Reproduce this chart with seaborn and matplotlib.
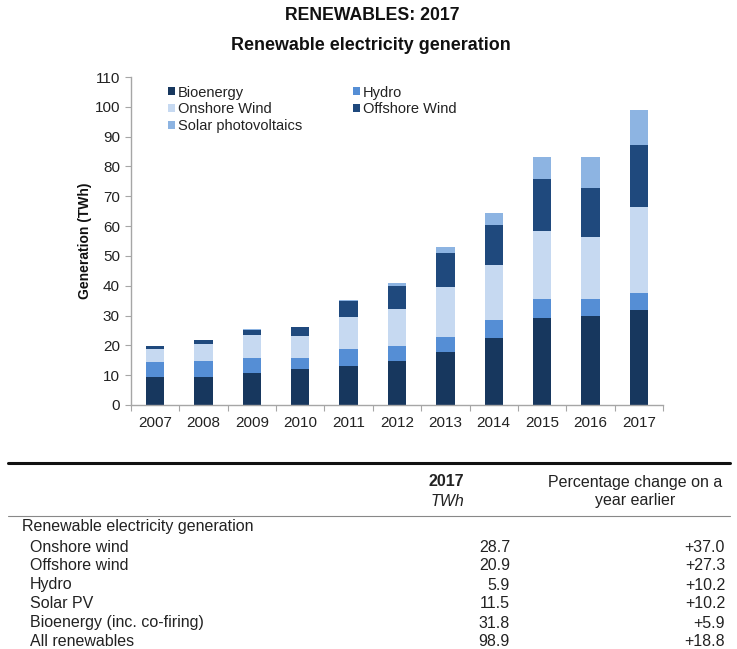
import matplotlib
matplotlib.use("Agg")
import matplotlib.pyplot as plt
from matplotlib.patches import Patch
from matplotlib.lines import Line2D
import numpy as np
import pandas as pd
import seaborn as sns

# ---- data ----
years = ["2007", "2008", "2009", "2010", "2011", "2012", "2013", "2014", "2015", "2016", "2017"]
bioenergy = [9.3, 9.3, 10.6, 12.2, 13.2, 14.6, 17.9, 22.5, 29.2, 29.9, 31.8]
hydro = [5.0, 5.4, 5.2, 3.6, 5.7, 5.3, 4.9, 5.9, 6.3, 5.6, 5.9]
onshore = [4.5, 5.7, 7.7, 7.2, 10.7, 12.4, 16.9, 18.7, 22.7, 20.9, 28.7]
offshore = [1.0, 1.4, 1.8, 3.2, 5.4, 7.6, 11.4, 13.4, 17.5, 16.5, 20.9]
solar = [0.1, 0.1, 0.1, 0.1, 0.2, 1.1, 1.8, 3.9, 7.6, 10.4, 11.5]

series_names = ["Bioenergy", "Hydro", "Onshore Wind", "Offshore Wind", "Solar photovoltaics"]
series_colors = ["#17375E", "#558ED5", "#C6D9F1", "#1F497D", "#8DB4E2"]

table_rows = ["Onshore wind", "Offshore wind", "Hydro", "Solar PV", "Bioenergy (inc. co-firing)", "All renewables"]
table_twh = ["28.7", "20.9", "5.9", "11.5", "31.8", "98.9"]
table_pct = ["+37.0", "+27.3", "+10.2", "+10.2", "+5.9", "+18.8"]

sns.set_theme(style="white")
plt.rcParams['font.family'] = ['Liberation Sans', 'DejaVu Sans']

W, H = 737, 649
fig = plt.figure(figsize=(W / 100, H / 100), dpi=100)
fig.patch.set_facecolor("white")

def fx(px):
    return px / W

def fy(py):
    return 1 - py / H

ax = fig.add_axes([fx(131), fy(405), fx(663) - fx(131), fy(77) - fy(405)])

df = pd.DataFrame({"year": years, "Bioenergy": bioenergy, "Hydro": hydro,
                   "Onshore Wind": onshore, "Offshore Wind": offshore,
                   "Solar photovoltaics": solar})
cum = df[series_names].cumsum(axis=1)
for name, color in reversed(list(zip(series_names, series_colors))):
    sns.barplot(x=df["year"], y=cum[name], color=color, saturation=1,
                width=0.38, ax=ax, linewidth=0, order=years)

ax.set_xlim(-0.5, 10.5)
ax.set_ylim(0, 110)
ax.set_yticks(np.arange(0, 111, 10))
ax.set_xlabel("")
ax.set_ylabel("Generation (TWh)", fontsize=10, fontweight="bold", labelpad=1.5, color="#111111")
for s in ["top", "right"]:
    ax.spines[s].set_visible(False)
for s in ["left", "bottom"]:
    ax.spines[s].set_color("#A6A6A6")
    ax.spines[s].set_linewidth(1.0)
ax.tick_params(axis="y", which="major", length=4, width=0.8, color="#A6A6A6",
               direction="out", left=True, labelsize=11, labelcolor="#222222", pad=4)
ax.tick_params(axis="x", which="major", length=0, labelsize=11, labelcolor="#222222", pad=8)
ax.set_xticks(np.arange(-0.5, 10.6, 1), minor=True)
ax.tick_params(axis="x", which="minor", length=4, width=0.8, color="#A6A6A6",
               direction="out", bottom=True)
ax.grid(False)

handles = [Patch(facecolor=c, edgecolor="none") for c in series_colors]
order = [0, 2, 4, 1, 3]
leg = ax.legend([handles[i] for i in order], [series_names[i] for i in order],
                ncol=2, loc="upper left", bbox_to_anchor=(fx(167.5), fy(85.5)),
                bbox_transform=fig.transFigure, frameon=False, fontsize=10.5,
                handlelength=0.5, handleheight=0.5, handletextpad=0.2,
                labelspacing=0.2, columnspacing=3.5, borderpad=0, borderaxespad=0)
for t in leg.get_texts():
    t.set_color("#222222")

# titles
fig.text(fx(372), fy(16), "RENEWABLES: 2017", ha="center", va="center",
         fontsize=12.7, fontweight="bold", color="#111111")
fig.text(fx(371), fy(45), "Renewable electricity generation", ha="center", va="center",
         fontsize=12.9, fontweight="bold", color="#111111")

# table
fig.add_artist(Line2D([fx(8), fx(730)], [fy(463), fy(463)], color="#111111", linewidth=2.2,
                      transform=fig.transFigure))
fig.add_artist(Line2D([fx(8), fx(730)], [fy(515.5), fy(515.5)], color="#888888", linewidth=0.8,
                      transform=fig.transFigure))
tfs = 11.5
tc = "#222222"
fig.text(fx(464), fy(482), "2017", ha="right", va="center", fontsize=tfs,
         fontweight="bold", color=tc)
fig.text(fx(464), fy(501), "TWh", ha="right", va="center", fontsize=tfs,
         style="italic", color=tc)
fig.text(fx(635), fy(482), "Percentage change on a", ha="center", va="center",
         fontsize=tfs, color=tc)
fig.text(fx(635), fy(501), "year earlier", ha="center", va="center",
         fontsize=tfs, color=tc)
fig.text(fx(22), fy(527), "Renewable electricity generation", ha="left", va="center",
         fontsize=tfs, color=tc)
row_y = [547, 566, 585, 604, 623, 642]
for lab, v, p, yy in zip(table_rows, table_twh, table_pct, row_y):
    fig.text(fx(30), fy(yy), lab, ha="left", va="center", fontsize=tfs, color=tc)
    fig.text(fx(510), fy(yy), v, ha="right", va="center", fontsize=tfs, color=tc)
    fig.text(fx(725), fy(yy), p, ha="right", va="center", fontsize=tfs, color=tc)

fig.savefig("out.png", dpi=100, facecolor="white")
